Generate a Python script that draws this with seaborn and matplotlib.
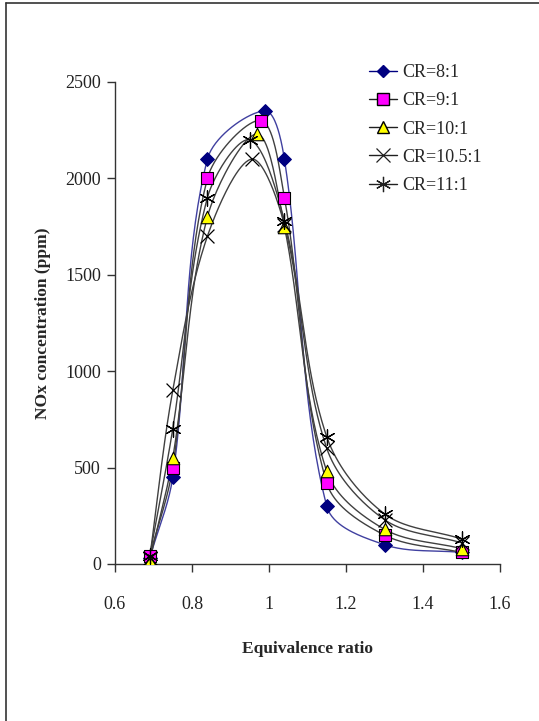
import numpy as np
import pandas as pd
import matplotlib
matplotlib.use('Agg')
import matplotlib.pyplot as plt
import seaborn as sns
from matplotlib.lines import Line2D

# equivalence ratio values for each compression ratio
phi_8 = [0.69, 0.75, 0.84, 0.99, 1.04, 1.15, 1.30, 1.50]
nox_8 = [30, 450, 2100, 2350, 2100, 300, 100, 60]

phi_9 = [0.69, 0.75, 0.84, 0.98, 1.04, 1.15, 1.30, 1.50]
nox_9 = [40, 500, 2000, 2300, 1900, 420, 150, 60]

phi_10 = [0.69, 0.75, 0.84, 0.97, 1.04, 1.15, 1.30, 1.50]
nox_10 = [15, 550, 1800, 2230, 1750, 480, 180, 80]

phi_105 = [0.69, 0.75, 0.84, 0.955, 1.04, 1.15, 1.30, 1.50]
nox_105 = [30, 900, 1700, 2100, 1760, 600, 230, 110]

phi_11 = [0.69, 0.75, 0.84, 0.95, 1.04, 1.15, 1.30, 1.50]
nox_11 = [40, 700, 1900, 2200, 1780, 660, 260, 130]

labels = ['CR=8:1', 'CR=9:1', 'CR=10:1', 'CR=10.5:1', 'CR=11:1']
x_ticks = [0.6, 0.8, 1, 1.2, 1.4, 1.6]
y_ticks = [0, 500, 1000, 1500, 2000, 2500]

series = [(phi_8, nox_8), (phi_9, nox_9), (phi_10, nox_10),
          (phi_105, nox_105), (phi_11, nox_11)]

styles = {
    'CR=8:1':    dict(marker='D', face='#000080', edge='#000080', line='#4040a0', ms=7),
    'CR=9:1':    dict(marker='s', face='#ff00ff', edge='#000000', line='#404040', ms=9),
    'CR=10:1':   dict(marker='^', face='#ffff00', edge='#000000', line='#404040', ms=9),
    'CR=10.5:1': dict(marker='x', face='#000000', edge='#303030', line='#404040', ms=10),
    'CR=11:1':   dict(marker=(6, 2, 0), face='#000000', edge='#202020', line='#404040', ms=11),
}

# pixel scale of the axes, used so the smoothing works in screen space
XS = 385 / 1.0
YS = 482 / 2500


def smooth(x, y, n=40):
    # excel-like smoothed line: bezier through the points,
    # tangent weighted by neighbouring segment lengths
    p = np.column_stack([np.asarray(x, float) * XS, np.asarray(y, float) * YS])
    m = len(p)
    d = np.linalg.norm(np.diff(p, axis=0), axis=1)
    out = []
    t = np.linspace(0, 1, n)[:, None]
    for i in range(m - 1):
        if i > 0:
            tan = p[i + 1] - p[i - 1]
            c1 = p[i] + tan * d[i] / (d[i - 1] + d[i]) / 3
        else:
            c1 = p[i] + (p[i + 1] - p[i]) / 3
        if i + 2 < m:
            tan = p[i + 2] - p[i]
            c2 = p[i + 1] - tan * d[i] / (d[i] + d[i + 1]) / 3
        else:
            c2 = p[i + 1] - (p[i + 1] - p[i]) / 3
        seg = ((1 - t) ** 3) * p[i] + 3 * ((1 - t) ** 2) * t * c1 \
            + 3 * (1 - t) * t ** 2 * c2 + t ** 3 * p[i + 1]
        out.append(seg)
    out = np.vstack(out)
    return out[:, 0] / XS, out[:, 1] / YS


sns.set_style('ticks')
plt.rcParams['font.family'] = ['Liberation Serif', 'DejaVu Serif']

fig = plt.figure(figsize=(5.39, 7.21), dpi=100)
ax = fig.add_axes([115 / 539, 1 - 564 / 721, 385 / 539, 482 / 721])

for lab, (xs, ys) in zip(labels, series):
    st = styles[lab]
    sx, sy = smooth(xs, ys)
    curve = pd.DataFrame({'phi': sx, 'nox': sy})
    sns.lineplot(data=curve, x='phi', y='nox', sort=False, estimator=None,
                 color=st['line'], linewidth=1.0, ax=ax, zorder=2)

for lab, (xs, ys) in zip(labels, series):
    st = styles[lab]
    pts = pd.DataFrame({'phi': xs, 'nox': ys})
    if st['marker'] in ('x', (6, 2, 0)):
        sns.scatterplot(data=pts, x='phi', y='nox', marker=st['marker'],
                        s=st['ms'] ** 2, color=st['face'], linewidth=0.9,
                        ax=ax, zorder=3)
    else:
        sns.scatterplot(data=pts, x='phi', y='nox', marker=st['marker'],
                        s=st['ms'] ** 2, color=st['face'], edgecolor=st['edge'],
                        linewidth=0.8, ax=ax, zorder=3)

ax.set_xlim(0.6, 1.6)
ax.set_ylim(0, 2500)
ax.set_xticks(x_ticks)
ax.set_xticklabels(['0.6', '0.8', '1', '1.2', '1.4', '1.6'])
ax.set_yticks(y_ticks)
ax.tick_params(axis='both', direction='out', length=6, width=1, color='#333333',
               labelsize=13, labelcolor='#222222')
ax.tick_params(axis='x', pad=17)
ax.tick_params(axis='y', pad=4)
for sp in ['top', 'right']:
    ax.spines[sp].set_visible(False)
for sp in ['left', 'bottom']:
    ax.spines[sp].set_color('#333333')
    ax.spines[sp].set_linewidth(1.0)
ax.grid(False)

ax.set_xlabel('Equivalence ratio', fontsize=12.5, fontweight='bold', labelpad=20)
ax.set_ylabel('NOx concentration (ppm)', fontsize=12.5, fontweight='bold', labelpad=10)

handles = []
for lab in labels:
    st = styles[lab]
    if st['marker'] in ('x', (6, 2, 0)):
        h = Line2D([], [], color='#202020', linewidth=1.0, marker=st['marker'],
                   markersize=st['ms'], markeredgecolor='#202020', markeredgewidth=0.9)
    else:
        h = Line2D([], [], color='#202020' if lab != 'CR=8:1' else '#000080',
                   linewidth=1.0, marker=st['marker'], markersize=st['ms'] - 1,
                   markerfacecolor=st['face'], markeredgecolor=st['edge'])
    handles.append(h)
leg = fig.legend(handles, labels, loc='upper left', bbox_to_anchor=(362 / 539, 1 - 57 / 721),
                 frameon=False, fontsize=13, handlelength=1.55, handletextpad=0.3,
                 labelspacing=0.62, borderaxespad=0)

# frame around the picture
fig.add_artist(Line2D([6 / 539, 6 / 539], [0, 1 - 3 / 721], transform=fig.transFigure,
                      color='#333333', linewidth=1.2))
fig.add_artist(Line2D([6 / 539, 1], [1 - 3 / 721, 1 - 3 / 721], transform=fig.transFigure,
                      color='#333333', linewidth=1.2))

fig.savefig('out.png', dpi=100)
